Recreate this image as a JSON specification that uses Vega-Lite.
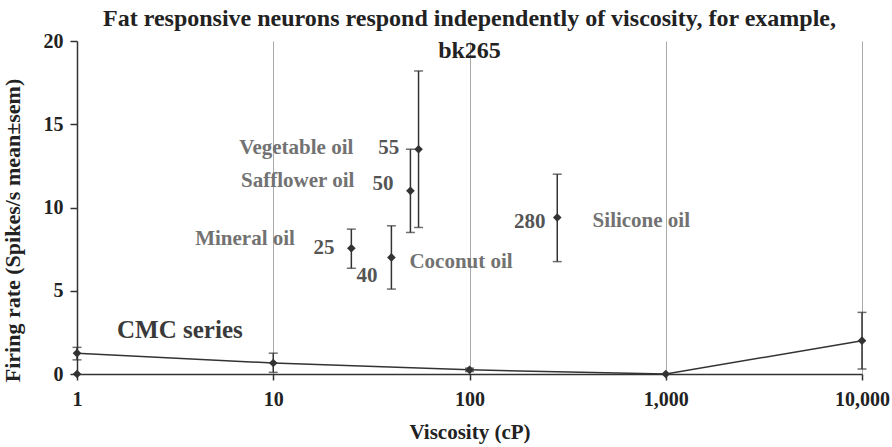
{
  "$schema": "https://vega.github.io/schema/vega-lite/v6.json",
  "width": 785,
  "height": 333,
  "autosize": {"type": "none"},
  "padding": {"left": 77, "top": 41, "right": 30, "bottom": 73},
  "background": "white",
  "title": {
    "text": ["Fat responsive neurons respond independently of viscosity, for example,", "bk265"],
    "frame": "group",
    "anchor": "middle",
    "baseline": "alphabetic",
    "offset": -51,
    "font": "Liberation Serif",
    "fontSize": 24,
    "fontWeight": "bold",
    "lineHeight": 32,
    "color": "#222222"
  },
  "config": {"view": {"stroke": null}, "font": "Liberation Serif"},
  "datasets": {
    "cmc": [
      {"viscosity": 1, "rate": 1.25, "lo": 0.85, "hi": 1.6},
      {"viscosity": 10, "rate": 0.66, "lo": 0.1, "hi": 1.25},
      {"viscosity": 100, "rate": 0.25, "lo": 0.15, "hi": 0.35},
      {"viscosity": 1000, "rate": 0, "lo": 0, "hi": 0},
      {"viscosity": 10000, "rate": 2.0, "lo": 0.3, "hi": 3.7}
    ],
    "base": [
      {"viscosity": 1, "rate": 0}
    ],
    "oils": [
      {"oil": "Mineral oil", "viscosity": 25, "rate": 7.55, "lo": 6.35, "hi": 8.7},
      {"oil": "Coconut oil", "viscosity": 40, "rate": 7.0, "lo": 5.1, "hi": 8.9},
      {"oil": "Safflower oil", "viscosity": 50, "rate": 11.0, "lo": 8.5, "hi": 13.5},
      {"oil": "Vegetable oil", "viscosity": 55, "rate": 13.5, "lo": 8.8, "hi": 18.2},
      {"oil": "Silicone oil", "viscosity": 280, "rate": 9.4, "lo": 6.75, "hi": 12.0}
    ],
    "labels": [
      {"text": "Vegetable oil", "kind": "nameL", "viscosity": 25.6, "rate": 13.55},
      {"text": "Safflower oil", "kind": "nameL", "viscosity": 25.9, "rate": 11.6},
      {"text": "Mineral oil", "kind": "nameL", "viscosity": 12.9, "rate": 8.1},
      {"text": "Coconut oil", "kind": "nameR", "viscosity": 49.4, "rate": 6.7},
      {"text": "Silicone oil", "kind": "nameR", "viscosity": 424, "rate": 9.2},
      {"text": "55", "kind": "num", "viscosity": 43.9, "rate": 13.55},
      {"text": "50", "kind": "num", "viscosity": 41, "rate": 11.4},
      {"text": "25", "kind": "num", "viscosity": 20.5, "rate": 7.55},
      {"text": "40", "kind": "num", "viscosity": 34, "rate": 5.87},
      {"text": "280", "kind": "num", "viscosity": 244, "rate": 9.1},
      {"text": "CMC series", "kind": "series", "viscosity": 1.6, "rate": 2.63}
    ]
  },
  "layer": [
    {
      "data": {"name": "cmc"},
      "mark": {"type": "line", "color": "#333333", "strokeWidth": 1.5},
      "encoding": {
        "x": {
          "field": "viscosity",
          "type": "quantitative",
          "title": "Viscosity (cP)",
          "scale": {"type": "log", "domain": [1, 10000], "nice": false},
          "axis": {
            "title": "Viscosity (cP)",
            "values": [1, 10, 100, 1000, 10000],
            "format": ",",
            "grid": true,
            "gridColor": "#aaaaaa",
            "gridWidth": 1,
            "tickSize": 6,
            "tickColor": "#333333",
            "tickWidth": 1.5,
            "domainColor": "#333333",
            "domainWidth": 1.5,
            "labelPadding": 9,
            "labelFlush": false,
            "labelOverlap": false,
            "labelFont": "Liberation Serif",
            "labelFontSize": 20,
            "labelFontWeight": "bold",
            "labelColor": "#222222",
            "titleFont": "Liberation Serif",
            "titleFontSize": 21,
            "titleFontWeight": "bold",
            "titleColor": "#222222",
            "titlePadding": 12
          }
        },
        "y": {
          "field": "rate",
          "type": "quantitative",
          "title": "Firing rate (Spikes/s mean±sem)",
          "scale": {"domain": [0, 20], "nice": false},
          "axis": {
            "title": "Firing rate (Spikes/s mean±sem)",
            "values": [0, 5, 10, 15, 20],
            "grid": false,
            "tickSize": 7,
            "tickColor": "#333333",
            "tickWidth": 1.5,
            "domainColor": "#333333",
            "domainWidth": 1.5,
            "labelPadding": 7,
            "labelFont": "Liberation Serif",
            "labelFontSize": 20,
            "labelFontWeight": "bold",
            "labelColor": "#222222",
            "titleFont": "Liberation Serif",
            "titleFontSize": 22,
            "titleFontWeight": "bold",
            "titleColor": "#222222",
            "titlePadding": 19,
            "titleY": 189
          }
        }
      }
    },
    {
      "data": {"name": "cmc"},
      "mark": {"type": "errorbar", "ticks": true, "size": 9, "thickness": 1.5, "color": "#333333"},
      "encoding": {
        "x": {"field": "viscosity", "type": "quantitative", "title": "Viscosity (cP)"},
        "y": {"field": "lo", "type": "quantitative", "title": "Firing rate (Spikes/s mean±sem)"},
        "y2": {"field": "hi"}
      }
    },
    {
      "data": {"name": "oils"},
      "mark": {"type": "errorbar", "ticks": true, "size": 9, "thickness": 1.5, "color": "#333333"},
      "encoding": {
        "x": {"field": "viscosity", "type": "quantitative", "title": "Viscosity (cP)"},
        "y": {"field": "lo", "type": "quantitative", "title": "Firing rate (Spikes/s mean±sem)"},
        "y2": {"field": "hi"}
      }
    },
    {
      "data": {"name": "cmc"},
      "mark": {"type": "point", "shape": "diamond", "filled": true, "size": 75, "color": "#333333", "opacity": 1},
      "encoding": {
        "x": {"field": "viscosity", "type": "quantitative", "title": "Viscosity (cP)"},
        "y": {"field": "rate", "type": "quantitative", "title": "Firing rate (Spikes/s mean±sem)"}
      }
    },
    {
      "data": {"name": "base"},
      "mark": {"type": "point", "shape": "diamond", "filled": true, "size": 75, "color": "#333333", "opacity": 1},
      "encoding": {
        "x": {"field": "viscosity", "type": "quantitative", "title": "Viscosity (cP)"},
        "y": {"field": "rate", "type": "quantitative", "title": "Firing rate (Spikes/s mean±sem)"}
      }
    },
    {
      "data": {"name": "oils"},
      "mark": {"type": "point", "shape": "diamond", "filled": true, "size": 75, "color": "#333333", "opacity": 1},
      "encoding": {
        "x": {"field": "viscosity", "type": "quantitative", "title": "Viscosity (cP)"},
        "y": {"field": "rate", "type": "quantitative", "title": "Firing rate (Spikes/s mean±sem)"}
      }
    },
    {
      "data": {"name": "labels"},
      "transform": [{"filter": "datum.kind === 'nameL'"}],
      "mark": {"type": "text", "align": "right", "baseline": "middle", "font": "Liberation Serif", "fontSize": 21, "fontWeight": "bold", "color": "#727272"},
      "encoding": {
        "x": {"field": "viscosity", "type": "quantitative", "title": "Viscosity (cP)"},
        "y": {"field": "rate", "type": "quantitative", "title": "Firing rate (Spikes/s mean±sem)"},
        "text": {"field": "text"}
      }
    },
    {
      "data": {"name": "labels"},
      "transform": [{"filter": "datum.kind === 'nameR'"}],
      "mark": {"type": "text", "align": "left", "baseline": "middle", "font": "Liberation Serif", "fontSize": 21, "fontWeight": "bold", "color": "#727272"},
      "encoding": {
        "x": {"field": "viscosity", "type": "quantitative", "title": "Viscosity (cP)"},
        "y": {"field": "rate", "type": "quantitative", "title": "Firing rate (Spikes/s mean±sem)"},
        "text": {"field": "text"}
      }
    },
    {
      "data": {"name": "labels"},
      "transform": [{"filter": "datum.kind === 'num'"}],
      "mark": {"type": "text", "align": "right", "baseline": "middle", "font": "Liberation Serif", "fontSize": 21, "fontWeight": "bold", "color": "#555555"},
      "encoding": {
        "x": {"field": "viscosity", "type": "quantitative", "title": "Viscosity (cP)"},
        "y": {"field": "rate", "type": "quantitative", "title": "Firing rate (Spikes/s mean±sem)"},
        "text": {"field": "text"}
      }
    },
    {
      "data": {"name": "labels"},
      "transform": [{"filter": "datum.kind === 'series'"}],
      "mark": {"type": "text", "align": "left", "baseline": "middle", "font": "Liberation Serif", "fontSize": 25, "fontWeight": "bold", "color": "#3a3a3a"},
      "encoding": {
        "x": {"field": "viscosity", "type": "quantitative", "title": "Viscosity (cP)"},
        "y": {"field": "rate", "type": "quantitative", "title": "Firing rate (Spikes/s mean±sem)"},
        "text": {"field": "text"}
      }
    }
  ]
}
